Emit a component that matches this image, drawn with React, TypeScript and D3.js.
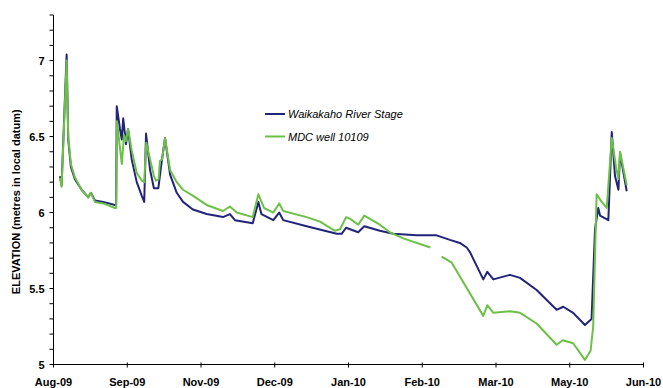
import React from "react";
import * as d3 from "d3";

// Days since the first axis tick (Aug-09), labelled in 36.5-day steps
const tickLabels = ["Aug-09", "Sep-09", "Nov-09", "Dec-09", "Jan-10", "Feb-10", "Mar-10", "May-10", "Jun-10"];
const tickStep = 36.5;

const riverDays = [
  3.2, 4.0, 6.5, 7.3, 8.6, 10.6, 13.9, 17.2, 18.5, 20.5, 24.6, 30.4, 31.0, 31.3, 32.9, 33.8, 34.5,
  35.9, 36.9, 38.7, 41.2, 43.7, 44.9, 45.8, 47.8, 49.7, 51.9, 53.2, 55.2, 57.7, 61.0, 64.1, 69.0,
  75.8, 83.9, 87.3, 89.8, 98.6, 101.4, 102.9, 108.8, 111.7, 113.7, 125.3, 140.2, 142.6, 144.8,
  150.8, 153.8, 161.5, 168.2, 179.7, 189.6, 196.2, 201.1, 204.5, 206.1, 212.7, 214.7, 217.7,
  225.9, 230.9, 239.1, 249.0, 252.3, 257.2, 263.0, 266.3, 268.0, 269.6, 270.5, 274.6, 276.3, 277.9,
  279.6, 280.4, 283.7,
];
const riverStage = [
  6.24, 6.18, 7.04, 6.48, 6.3, 6.22, 6.15, 6.1, 6.13, 6.08, 6.07, 6.05, 6.05, 6.7, 6.55, 6.48, 6.62,
  6.45, 6.55, 6.35, 6.2, 6.11, 6.07, 6.52, 6.28, 6.16, 6.16, 6.3, 6.49, 6.25, 6.13, 6.07, 6.02,
  5.99, 5.97, 5.99, 5.95, 5.93, 6.07, 5.99, 5.95, 6.0, 5.95, 5.91, 5.86, 5.86, 5.9,
  5.87, 5.91, 5.88, 5.86, 5.85, 5.85, 5.82, 5.8, 5.77, 5.74, 5.56, 5.61, 5.56,
  5.59, 5.57, 5.49, 5.36, 5.38, 5.34, 5.26, 5.3, 5.89, 6.03, 5.98, 5.95, 6.53, 6.24,
  6.15, 6.39, 6.14,
];

// null marks the break in the well record
const wellDays = [
  3.2, 4.0, 6.5, 7.3, 8.6, 10.6, 13.9, 17.2, 18.5, 20.5, 24.6, 30.4, 31.0, 31.4, 33.8, 34.9, 35.9,
  36.9, 38.7, 41.2, 43.7, 44.9, 45.9, 47.8, 49.7, 50.7, 52.0, 52.7, 53.7, 55.2, 57.7, 61.0, 64.1,
  69.1, 75.8, 83.9, 87.3, 90.7, 98.6, 101.4, 104.2, 108.8, 111.7, 113.7, 125.3, 131.9, 139.3,
  141.8, 144.8, 146.7, 150.8, 153.8, 161.5, 166.5, 173.1, 186.5, 189.3, 192.1, 197.1, 212.7, 214.7,
  217.7, 225.9, 230.9, 239.1, 249.0, 252.0, 257.2, 263.0, 265.8, 267.1, 268.8, 271.3, 273.8, 276.3,
  278.4, 279.6, 280.4, 283.7,
];
const wellLevel = [
  6.23, 6.17, 7.0, 6.5, 6.32, 6.23, 6.15, 6.1, 6.13, 6.07, 6.06, 6.03, 6.03, 6.6, 6.32, 6.51, 6.47,
  6.55, 6.41, 6.26, 6.21, 6.2, 6.46, 6.35, 6.24, 6.21, 6.22, 6.34, 6.35, 6.49, 6.28, 6.2, 6.15,
  6.11, 6.05, 6.01, 6.04, 6.0, 5.97, 6.12, 6.03, 6.0, 6.06, 6.01, 5.97, 5.94, 5.88,
  5.89, 5.97, 5.96, 5.92, 5.98, 5.92, 5.87, 5.83, 5.77, null, 5.71, 5.67, 5.32, 5.39,
  5.34, 5.35, 5.34, 5.27, 5.13, 5.16, 5.14, 5.03, 5.09, 5.25, 6.12, 6.07, 6.03, 6.49,
  6.3, 6.22, 6.4, 6.18,
];

const seriesNames = ["Waikakaho River Stage", "MDC well 10109"];
const seriesColors = ["#22237a", "#6cc045"];
const yLabelTicks = [5, 5.5, 6, 6.5, 7];

const W = 663;
const H = 388;
const FONT = "Arial, 'Liberation Sans', sans-serif";

export default function App() {
  const x = d3.scaleLinear().domain([0, tickStep * (tickLabels.length - 1)]).range([53.5, 643.5]);
  const y = d3.scaleLinear().domain([5, 7.3]).range([364.5, 15]);

  const minorTicks = d3.range(50, 74).map((v) => v / 10);

  const line = d3
    .line<[number, number | null]>()
    .defined((d) => d[1] !== null)
    .x((d) => x(d[0]))
    .y((d) => y(d[1] as number));

  const river = riverDays.map((d, i) => [d, riverStage[i]] as [number, number | null]);
  const well = wellDays.map((d, i) => [d, wellLevel[i]] as [number, number | null]);

  const x0 = x(0);
  const yBase = y(5);

  return (
    <svg width={W} height={H} style={{ position: "absolute", left: 0, top: 0, background: "#fff" }}>
      {/* series */}
      <path d={line(river) || ""} fill="none" stroke={seriesColors[0]} strokeWidth={2} strokeLinejoin="round" />
      <path d={line(well) || ""} fill="none" stroke={seriesColors[1]} strokeWidth={2} strokeLinejoin="round" />

      {/* y axis */}
      <line x1={x0} x2={x0} y1={y(7.3)} y2={yBase} stroke="#000" strokeWidth={1} />
      {minorTicks.map((t) => (
        <line key={t} x1={x0 - 4} x2={x0} y1={y(t)} y2={y(t)} stroke="#000" strokeWidth={1} />
      ))}
      {yLabelTicks.map((t) => (
        <text
          key={t}
          x={x0 - 9}
          y={y(t) + 4}
          textAnchor="end"
          fontFamily={FONT}
          fontWeight="bold"
          fontSize={11}
          fill="#000"
        >
          {t}
        </text>
      ))}
      <text
        transform={`translate(20,${(y(7.3) + yBase) / 2 + 12}) rotate(-90)`}
        textAnchor="middle"
        fontFamily={FONT}
        fontWeight="bold"
        fontSize={11}
        fill="#000"
      >
        ELEVATION (metres in local datum)
      </text>

      {/* x axis */}
      <line x1={x0} x2={x(tickStep * (tickLabels.length - 1))} y1={yBase} y2={yBase} stroke="#000" strokeWidth={1} />
      {tickLabels.map((lab, i) => (
        <g key={lab}>
          <line x1={x(i * tickStep)} x2={x(i * tickStep)} y1={yBase - 2} y2={yBase + 3} stroke="#000" strokeWidth={1} />
          <text
            x={x(i * tickStep)}
            y={yBase + 21}
            textAnchor="middle"
            fontFamily={FONT}
            fontWeight="bold"
            fontSize={11}
            fill="#000"
          >
            {lab}
          </text>
        </g>
      ))}

      {/* legend */}
      {seriesNames.map((name, i) => (
        <g key={name} transform={`translate(265,${114 + i * 22.5})`}>
          <line x1={0} x2={20} y1={0} y2={0} stroke={seriesColors[i]} strokeWidth={2} />
          <text x={23} y={4} fontFamily={FONT} fontStyle="italic" fontSize={11} fill="#000">
            {name}
          </text>
        </g>
      ))}
    </svg>
  );
}
